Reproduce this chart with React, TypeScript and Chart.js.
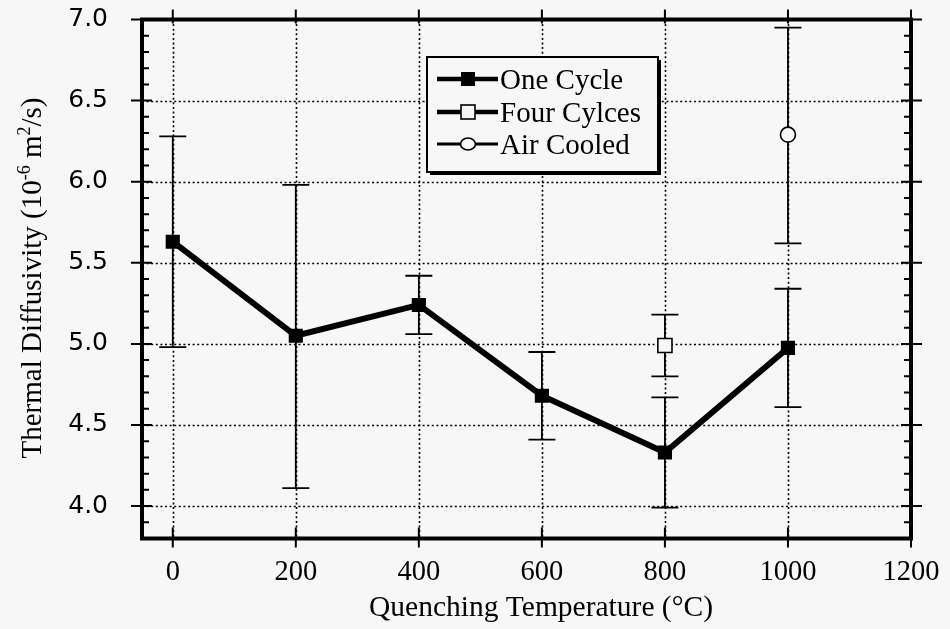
import React, { useEffect, useRef } from "react";
import { Chart, registerables } from "chart.js";

Chart.register(...registerables);

// ---------- data ----------
const xTicks = [0, 200, 400, 600, 800, 1000, 1200];
const yTicks = [4.0, 4.5, 5.0, 5.5, 6.0, 6.5, 7.0];

const seriesLabels = ["One Cycle", "Four Cylces", "Air Cooled"];

const oneCycleX = [0, 200, 400, 600, 800, 1000];
const oneCycleY = [5.63, 5.05, 5.24, 4.68, 4.33, 4.975];
const oneCycleHigh = [6.28, 5.98, 5.42, 4.95, 4.67, 5.34];
const oneCycleLow = [4.98, 4.11, 5.06, 4.41, 3.99, 4.61];

const fourCyclesX = [800];
const fourCyclesY = [4.99];
const fourCyclesHigh = [5.18];
const fourCyclesLow = [4.8];

const airCooledX = [1000];
const airCooledY = [6.29];
const airCooledHigh = [6.95];
const airCooledLow = [5.62];

const xTitle = "Quenching Temperature (°C)";
const yTitleParts = [
  { t: "Thermal Diffusivity (10", sup: false },
  { t: "-6", sup: true },
  { t: " m", sup: false },
  { t: "2", sup: true },
  { t: "/s)", sup: false },
];

// ---------- styles ----------
const BG = "#f7f7f7";
const INK = "#000";
const SERIF = "'Liberation Serif', 'Times New Roman', serif";
const SANS = "'DejaVu Sans', Verdana, sans-serif";

const errorSeries = [
  { x: oneCycleX, hi: oneCycleHigh, lo: oneCycleLow },
  { x: fourCyclesX, hi: fourCyclesHigh, lo: fourCyclesLow },
  { x: airCooledX, hi: airCooledHigh, lo: airCooledLow },
];

const decorPlugin = {
  id: "decor",
  beforeDraw(chart: any) {
    const { ctx, width, height } = chart;
    ctx.save();
    ctx.fillStyle = BG;
    ctx.fillRect(0, 0, width, height);
    ctx.restore();
  },
  beforeDatasetsDraw(chart: any) {
    const { ctx, chartArea: a, scales } = chart;
    const xs = scales.x;
    const ys = scales.y;
    ctx.save();
    // dotted grid
    ctx.strokeStyle = INK;
    ctx.lineWidth = 1.6;
    ctx.setLineDash([2, 2.6]);
    xTicks.forEach((v) => {
      const px = Math.round(xs.getPixelForValue(v)) + 0.5;
      if (px > a.right - 2) return;
      ctx.beginPath();
      ctx.moveTo(px, a.top);
      ctx.lineTo(px, a.bottom);
      ctx.stroke();
    });
    yTicks.forEach((v) => {
      const py = Math.round(ys.getPixelForValue(v)) + 0.5;
      if (py < a.top + 2) return;
      ctx.beginPath();
      ctx.moveTo(a.left, py);
      ctx.lineTo(a.right, py);
      ctx.stroke();
    });
    ctx.setLineDash([]);
    // error bars
    ctx.lineWidth = 1.8;
    errorSeries.forEach((s) => {
      s.x.forEach((xv, i) => {
        const px = xs.getPixelForValue(xv);
        const ph = ys.getPixelForValue(s.hi[i]);
        const pl = ys.getPixelForValue(s.lo[i]);
        ctx.beginPath();
        ctx.moveTo(px, ph);
        ctx.lineTo(px, pl);
        ctx.moveTo(px - 13.5, ph);
        ctx.lineTo(px + 13.5, ph);
        ctx.moveTo(px - 13.5, pl);
        ctx.lineTo(px + 13.5, pl);
        ctx.stroke();
      });
    });
    ctx.restore();
  },
  afterDatasetsDraw(chart: any) {
    const { ctx, chartArea: a, scales } = chart;
    const xs = scales.x;
    const ys = scales.y;
    ctx.save();
    ctx.strokeStyle = INK;
    ctx.fillStyle = INK;
    // frame
    ctx.lineWidth = 4;
    ctx.strokeRect(a.left, a.top, a.right - a.left, a.bottom - a.top);
    // ticks
    ctx.lineWidth = 2;
    ctx.beginPath();
    xTicks.forEach((v) => {
      const px = xs.getPixelForValue(v);
      ctx.moveTo(px, a.bottom - 11);
      ctx.lineTo(px, a.bottom + 9);
      ctx.moveTo(px, a.top - 10);
      ctx.lineTo(px, a.top + 4);
    });
    for (let i = 39; i <= 70; i++) {
      const v = i / 10;
      const py = ys.getPixelForValue(v);
      if (i % 5 === 0) {
        ctx.moveTo(a.left - 11, py);
        ctx.lineTo(a.left + 10, py);
        ctx.moveTo(a.right - 10, py);
        ctx.lineTo(a.right + 11, py);
      } else {
        ctx.moveTo(a.left, py);
        ctx.lineTo(a.left + 7, py);
        ctx.moveTo(a.right - 7, py);
        ctx.lineTo(a.right, py);
      }
    }
    ctx.stroke();

    // legend
    const lx = 427, ly = 57, lw = 231, lh = 115;
    ctx.fillStyle = BG;
    ctx.fillRect(lx, ly, lw, lh);
    ctx.fillStyle = INK;
    ctx.fillRect(lx + 3, ly + lh, lw, 3);
    ctx.fillRect(lx + lw, ly + 3, 3, lh);
    ctx.lineWidth = 2;
    ctx.strokeRect(lx, ly, lw, lh);
    const rows = [79, 112, 144];
    ctx.font = `29px ${SERIF}`;
    ctx.textBaseline = "alphabetic";
    ctx.textAlign = "left";
    rows.forEach((ry, i) => {
      ctx.lineWidth = i === 2 ? 3 : 4.5;
      ctx.beginPath();
      ctx.moveTo(437, ry);
      ctx.lineTo(498, ry);
      ctx.stroke();
      ctx.lineWidth = 1.6;
      if (i === 0) {
        ctx.fillStyle = INK;
        ctx.fillRect(468 - 7, ry - 7, 14, 14);
      } else if (i === 1) {
        ctx.fillStyle = BG;
        ctx.fillRect(468 - 7, ry - 7, 14, 14);
        ctx.strokeRect(468 - 7, ry - 7, 14, 14);
      } else {
        ctx.fillStyle = BG;
        ctx.beginPath();
        ctx.ellipse(468, ry, 7.5, 6, 0, 0, Math.PI * 2);
        ctx.fill();
        ctx.stroke();
      }
      ctx.fillStyle = INK;
      ctx.fillText(seriesLabels[i], 500, ry + 9.5);
    });

    // x title
    ctx.font = `29.5px ${SERIF}`;
    ctx.textAlign = "center";
    ctx.fillText(xTitle, 541, 616);

    // y title (rotated, with superscripts)
    ctx.save();
    ctx.translate(41, 278);
    ctx.rotate(-Math.PI / 2);
    ctx.textAlign = "left";
    const mainFont = `29px ${SERIF}`;
    const supFont = `18px ${SERIF}`;
    let total = 0;
    yTitleParts.forEach((p) => {
      ctx.font = p.sup ? supFont : mainFont;
      total += ctx.measureText(p.t).width;
    });
    let cx = -total / 2;
    yTitleParts.forEach((p) => {
      ctx.font = p.sup ? supFont : mainFont;
      ctx.fillText(p.t, cx, p.sup ? -11 : 0);
      cx += ctx.measureText(p.t).width;
    });
    ctx.restore();

    ctx.restore();
  },
};

export default function App() {
  const ref = useRef<HTMLCanvasElement | null>(null);
  useEffect(() => {
    if (!ref.current) return;
    const chart = new Chart(ref.current, {
      type: "scatter",
      data: {
        datasets: [
          {
            label: seriesLabels[0],
            data: oneCycleX.map((x, i) => ({ x, y: oneCycleY[i] })),
            showLine: true,
            borderColor: INK,
            borderWidth: 6,
            pointStyle: "rect",
            pointRadius: 10,
            pointBackgroundColor: INK,
            pointBorderColor: INK,
            pointBorderWidth: 0,
            tension: 0,
          },
          {
            label: seriesLabels[1],
            data: fourCyclesX.map((x, i) => ({ x, y: fourCyclesY[i] })),
            showLine: false,
            pointStyle: "rect",
            pointRadius: 10,
            pointBackgroundColor: BG,
            pointBorderColor: INK,
            pointBorderWidth: 1.6,
          },
          {
            label: seriesLabels[2],
            data: airCooledX.map((x, i) => ({ x, y: airCooledY[i] })),
            showLine: false,
            pointStyle: "circle",
            pointRadius: 7.5,
            pointBackgroundColor: BG,
            pointBorderColor: INK,
            pointBorderWidth: 1.6,
          },
        ],
      },
      options: {
        animation: false,
        responsive: true,
        maintainAspectRatio: false,
        layout: { padding: { left: 0, top: 19.5, right: 39, bottom: 0 } },
        plugins: {
          legend: { display: false },
          tooltip: { enabled: false },
          title: { display: false },
        },
        scales: {
          x: {
            type: "linear",
            min: -50,
            max: 1200,
            grid: { display: false, drawTicks: false },
            border: { display: false },
            afterBuildTicks: (s: any) => {
              s.ticks = xTicks.map((v) => ({ value: v }));
            },
            afterFit: (s: any) => {
              s.height = 90.5;
              s.paddingLeft = 0;
              s.paddingRight = 0;
            },
            ticks: {
              color: INK,
              font: { family: SERIF, size: 28.5 },
              padding: 17,
              maxRotation: 0,
              autoSkip: false,
              callback: (v: any) => String(v),
            },
          },
          y: {
            type: "linear",
            min: 3.8,
            max: 7.0,
            grid: { display: false, drawTicks: false },
            border: { display: false },
            afterBuildTicks: (s: any) => {
              s.ticks = yTicks.map((v) => ({ value: v }));
            },
            afterFit: (s: any) => {
              s.width = 142;
              s.paddingTop = 0;
              s.paddingBottom = 0;
            },
            ticks: {
              color: INK,
              font: { family: SANS, size: 25 },
              padding: 34,
              autoSkip: false,
              callback: (v: any) => Number(v).toFixed(1),
            },
          },
        },
      },
      plugins: [decorPlugin],
    });
    return () => chart.destroy();
  }, []);
  return (
    <div
      style={{
        position: "absolute",
        left: 0,
        top: 0,
        width: 950,
        height: 629,
        background: BG,
      }}
    >
      <canvas ref={ref} />
    </div>
  );
}
